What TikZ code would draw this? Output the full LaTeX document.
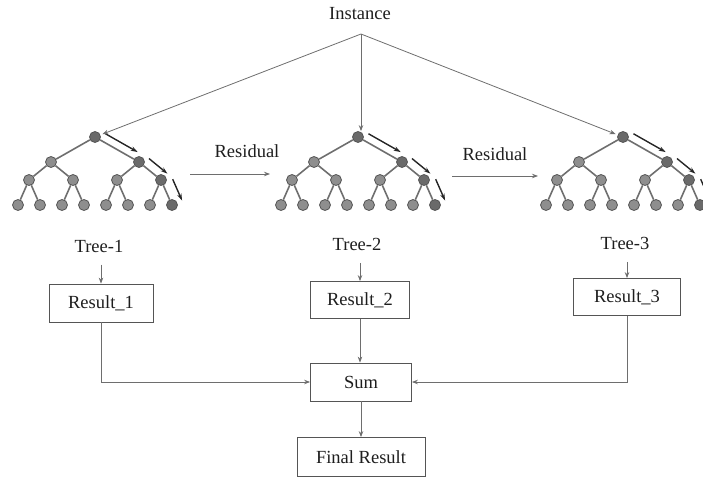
\documentclass[tikz,border=0pt]{standalone}
\usepackage{fontspec}
\setmainfont{Liberation Serif}
\usepackage{xcolor}
\usetikzlibrary{calc, arrows.meta}

\definecolor{linegray}{HTML}{6E6E6E}
\definecolor{nodegray}{HTML}{8E8E8E}
\definecolor{pathgray}{HTML}{6A6A6A}
\definecolor{nodeedge}{HTML}{555555}
\definecolor{textdark}{HTML}{1E1E1E}

\begin{document}
\begin{tikzpicture}[x=1pt, y=-1pt,
        every node/.style={font=\fontsize{18.5}{20}\selectfont, text=textdark},
        leaf/.style={circle, fill=nodegray, draw=nodeedge, line width=.8pt, minimum size=11pt, inner sep=0pt},
        pathleaf/.style={leaf, fill=pathgray},
        branch/.style={draw=linegray, line width=1.6pt},
        conn/.style={draw=linegray, line width=.8pt, -{Stealth[length=6pt, width=4.5pt]}},
        resarrow/.style={draw=black!85, line width=1.4pt, -{Stealth[length=7pt, width=4.5pt]}},
        resbox/.style={draw=nodeedge, line width=.8pt, fill=white, minimum height=38pt, inner sep=2pt}]

        % 1. Page and the instance on top
        \useasboundingbox (0,0) rectangle (703,479);
        \node (inst) at (360,14) {Instance};
        \coordinate (apex) at (361,34);

        % 2. The three trees
        \foreach \t/\cx in {t1/95, t2/358, t3/623} {
            \node[pathleaf] (\t-0) at (\cx,137) {};
            \node[leaf] (\t-a) at (\cx-44,162) {};
            \node[pathleaf] (\t-b) at (\cx+44,162) {};
            \node[leaf] (\t-aa) at (\cx-66,180) {};
            \node[leaf] (\t-ab) at (\cx-22,180) {};
            \node[leaf] (\t-ba) at (\cx+22,180) {};
            \node[pathleaf] (\t-bb) at (\cx+66,180) {};
            \node[leaf] (\t-aaa) at (\cx-77,205) {};
            \node[leaf] (\t-aab) at (\cx-55,205) {};
            \node[leaf] (\t-aba) at (\cx-33,205) {};
            \node[leaf] (\t-abb) at (\cx-11,205) {};
            \node[leaf] (\t-baa) at (\cx+11,205) {};
            \node[leaf] (\t-bab) at (\cx+33,205) {};
            \node[leaf] (\t-bba) at (\cx+55,205) {};
            \node[pathleaf] (\t-bbb) at (\cx+77,205) {};
            \foreach \p/\c in {0/a, 0/b, a/aa, a/ab, b/ba, b/bb, aa/aaa, aa/aab,
                               ab/aba, ab/abb, ba/baa, ba/bab, bb/bba, bb/bbb}
                \draw[branch] (\t-\p) -- (\t-\c);
            % residual path along the right branch
            \draw[resarrow, shorten <=7.5pt, shorten >=6pt]
                ($(\t-0.center)!8pt!90:(\t-b.center)$) -- ($(\t-b.center)!8pt!-90:(\t-0.center)$);
            \draw[resarrow, shorten <=5.5pt, shorten >=-1pt]
                ($(\t-b.center)!9pt!90:(\t-bb.center)$) -- ($(\t-bb.center)!9pt!-90:(\t-b.center)$);
            \draw[resarrow, shorten <=4pt, shorten >=0pt]
                ($(\t-bb.center)!11pt!90:(\t-bbb.center)$) -- ($(\t-bbb.center)!11pt!-90:(\t-bb.center)$);
        }

        % 3. Instance goes to every tree
        \draw[conn, shorten >=2pt] (apex) -- (t1-0);
        \draw[conn] (apex) -- (apex |- t2-0.north);
        \draw[conn, shorten >=2pt] (apex) -- (t3-0);

        % 4. Residual passed on between the trees
        \node (resid1) at (247,151) {Residual};
        \coordinate (rs1) at (190,174);
        \coordinate (re1) at (270,174);
        \draw[conn] (rs1) -- (re1);
        \node (resid2) at (495,154) {Residual};
        \coordinate (rs2) at (452,176);
        \coordinate (re2) at (538,176);
        \draw[conn] (rs2) -- (re2);

        % 5. Tree labels and their results
        \node (lab1) at (99,246) {Tree-1};
        \node (lab2) at (357,244) {Tree-2};
        \node (lab3) at (625,243) {Tree-3};
        \node[resbox, minimum width=104pt] (res1) at (101,303) {Result\_1};
        \node[resbox, minimum width=99pt, minimum height=37pt] (res2) at (360,300) {Result\_2};
        \node[resbox, minimum width=107pt, minimum height=37pt] (res3) at (627,297) {Result\_3};
        \draw[conn, shorten <=9pt] (lab1.south -| res1.north) -- (res1.north);
        \draw[conn, shorten <=9pt] (lab2.south -| res2.north) -- (res2.north);
        \draw[conn, shorten <=9pt] (lab3.south -| res3.north) -- (res3.north);

        % 6. Sum and final result
        \node[resbox, minimum width=101pt] (sum) at (361,382) {Sum};
        \node[resbox, minimum width=128pt, minimum height=39pt] (final) at (361,457) {Final Result};
        \draw[conn] (res1.south) |- (sum.west);
        \draw[conn] (res2.south) -- (res2.south |- sum.north);
        \draw[conn] (res3.south) |- (sum.east);
        \draw[conn] (sum.south) -- (sum.south |- final.north);

\end{tikzpicture}
\end{document}
